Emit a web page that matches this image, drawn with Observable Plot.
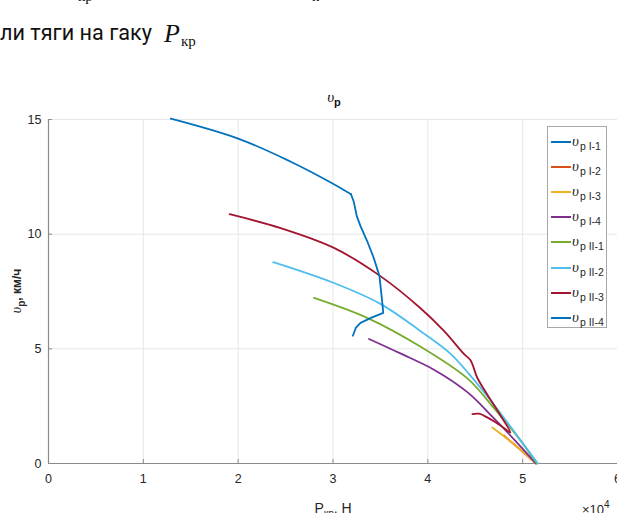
<!DOCTYPE html>
<html><head><meta charset="utf-8">
<script src="https://cdn.jsdelivr.net/npm/d3@7"></script>
<script src="https://cdn.jsdelivr.net/npm/@observablehq/plot@0.6"></script>
<style>
body{margin:0;background:#fff;}
#wrap{position:relative;width:617px;height:513px;overflow:hidden;background:#fff;font-family:"Liberation Sans",Arial,sans-serif;color:#262626;}
#wrap svg{position:absolute;left:0;top:60px;background:transparent;}
.abs{position:absolute;white-space:nowrap;}
.v{font-family:"Liberation Serif","Times New Roman",serif;font-style:italic;}
.hdr{font-family:Roboto,"Liberation Sans",sans-serif;font-size:22px;color:#111;line-height:1;}
.ser{font-family:"Liberation Serif","Times New Roman",serif;color:#111;line-height:1;}
#legend{position:absolute;left:547px;top:126px;width:58px;height:200px;border:1px solid #a8a8a8;background:#fff;}
.ent{position:absolute;left:0;height:16px;width:58px;}
.ent .ln{position:absolute;left:3px;top:7px;width:20px;height:2px;}
.ent .tx{position:absolute;left:24px;top:-1px;font-size:15px;line-height:15px;color:#262626;}
.ent .tx .s{font-family:"Liberation Sans",Arial,sans-serif;font-style:normal;font-size:10.5px;position:relative;top:4px;margin-left:1px;}
</style></head><body>
<div id="wrap">
  <div class="abs ser" style="left:78px;top:-11px;font-size:15px;">кр</div>
  <div class="abs ser" style="left:312px;top:-11px;font-size:15px;">к</div>
  <div id="hdr" class="abs hdr" style="left:0px;top:22px;">ли тяги на гаку</div>
  <div class="abs ser" style="left:164px;top:21px;font-size:26px;font-style:italic;">P</div>
  <div class="abs ser" style="left:181px;top:34px;font-size:15px;">кр</div>
</div>
<script>
// ---- data (x in units of 1e4 N, y in km/h) ----
const seriesNames = ["υp I-1","υp I-2","υp I-3","υp I-4","υp II-1","υp II-2","υp II-3","υp II-4"];
const seriesColors = ["#0072BD","#D95319","#EDB120","#7E2F8E","#77AC30","#4DBEEE","#A2142F","#0072BD"];
const legendLabels = ["I-1","I-2","I-3","I-4","II-1","II-2","II-3","II-4"];
const xTicks = [0,1,2,3,4,5,6];
const yTicks = [0,5,10,15];

const vI1 = [[1.29,15.04],[2.0,14.17],[2.55,13.17],[3.0,12.2],[3.19,11.74]];
const vI2 = [[4.8,1.22],[4.9,0.87],[5.14,0]];
const vI3 = [[4.68,1.57],[4.9,0.87],[5.14,0]];
const vI4 = [[3.38,5.43],[3.71,4.8],[4.06,4.1],[4.42,3.1],[4.69,2.0],[4.95,0.87],[5.14,0]];
const vII1 = [[2.8,7.22],[3.36,6.35],[3.92,5.1],[4.42,3.7],[4.69,2.45],[4.95,1.15],[5.15,0]];
const vII2 = [[2.37,8.78],[3.01,7.87],[3.5,6.96],[3.92,5.78],[4.24,4.78],[4.52,3.48],[4.77,2.17],[4.98,1.0],[5.16,0]];
const vII3 = [[1.91,10.87],[2.45,10.26],[3.01,9.4],[3.5,8.17],[3.92,6.78],[4.17,5.78],[4.38,4.78],[4.45,4.5],[4.52,3.75],[4.62,3.05],[4.75,2.2],[4.87,1.35],[4.77,1.65],[4.63,2.0],[4.54,2.17],[4.47,2.15]];
const vII4 = [[3.19,11.74],[3.22,11.4],[3.25,10.8],[3.29,10.35],[3.36,9.7],[3.43,8.96],[3.49,8.17],[3.52,7.0],[3.53,6.57],[3.4,6.35],[3.29,6.13],[3.24,5.91],[3.21,5.57]];

const allSeries = [vI1,vI2,vI3,vI4,vII1,vII2,vII3,vII4];
const table = allSeries.flatMap((arr,i)=>arr.map(([x,y])=>({s:seriesNames[i],x,y})));
const smooth = table.filter(d=>d.s!=="υp II-4");
const wiggle = table.filter(d=>d.s==="υp II-4");

const W=617,H=453,mL=48,mR=0,mT=59,mB=50;
const plotW=W-mL-mR, plotH=H-mT-mB;

const chart = Plot.plot({
  width:W,height:H,marginLeft:mL,marginRight:mR,marginTop:mT,marginBottom:mB,
  style:{fontFamily:"'Liberation Sans',Arial,sans-serif",fontSize:"12.5px",color:"#262626",background:"transparent",overflow:"visible"},
  x:{domain:[0,6],ticks:xTicks,tickFormat:d=>String(d),tickSize:0,tickPadding:11,label:null},
  y:{domain:[0,15],ticks:yTicks,tickFormat:d=>String(d),tickSize:0,tickPadding:7,label:null},
  color:{domain:seriesNames,range:seriesColors},
  marks:[
    Plot.ruleX(xTicks.slice(1),{stroke:"#e6e6e6",strokeWidth:1}),
    Plot.ruleY(yTicks.slice(1),{stroke:"#e6e6e6",strokeWidth:1}),
    Plot.tickX(xTicks.slice(1),{x:d=>d,stroke:"#8a8a8a",insetTop:plotH-4}),
    Plot.tickY(yTicks.slice(1),{y:d=>d,stroke:"#8a8a8a",insetRight:plotW-4}),
    Plot.ruleY([0],{stroke:"#8a8a8a",strokeWidth:1.2}),
    Plot.ruleX([0],{stroke:"#8a8a8a",strokeWidth:1.2}),
    Plot.line(smooth,{x:"x",y:"y",z:"s",stroke:"s",strokeWidth:1.8,curve:"catmull-rom",strokeLinejoin:"round"}),
    Plot.line(wiggle,{x:"x",y:"y",z:"s",stroke:"s",strokeWidth:1.8,curve:"linear",strokeLinejoin:"round"})
  ]
});
const wrap=document.getElementById("wrap");
wrap.appendChild(chart);

// fit header text width to the reference (~152px)
const hdr=document.getElementById("hdr");
const w0=hdr.getBoundingClientRect().width;
if(w0>0){hdr.style.fontSize=(22*152/w0).toFixed(2)+"px";}

function add(html,style,cls){const d=document.createElement("div");d.className="abs "+(cls||"");d.setAttribute("style",style);d.innerHTML=html;wrap.appendChild(d);return d;}
// title
add('<span class="v" style="font-size:15px;">υ</span><span style="font-size:11px;font-weight:bold;position:relative;top:4px;">p</span>',"left:334px;top:88px;transform:translateX(-50%);color:#111;");
// y label
add('<span class="v" style="font-size:14px;font-weight:normal;">υ</span><span style="font-size:10px;font-weight:bold;position:relative;top:4px;">p</span><span style="font-size:12px;font-weight:bold;">, км/ч</span>',"left:16px;top:291px;transform:translate(-50%,-50%) rotate(-90deg);color:#262626;");
// x label
add('<span style="font-size:14px;">P</span><span style="font-size:10px;position:relative;top:4px;">кр</span><span style="font-size:14px;">, Н</span>',"left:333px;top:499px;transform:translateX(-50%);color:#262626;");
// exponent
add('<span style="font-size:13px;">×10</span><span style="font-size:10px;position:relative;top:-6px;">4</span>',"left:582px;top:500px;color:#262626;");
// legend
const lg=document.createElement("div");lg.id="legend";wrap.appendChild(lg);
legendLabels.forEach((lab,i)=>{
  const e=document.createElement("div");e.className="ent";e.style.top=(7+i*25.1)+"px";
  e.innerHTML=`<div class="ln" style="background:${seriesColors[i]}"></div><div class="tx"><span class="v">υ</span><span class="s">p ${lab}</span></div>`;
  lg.appendChild(e);
});
</script>
</body></html>
